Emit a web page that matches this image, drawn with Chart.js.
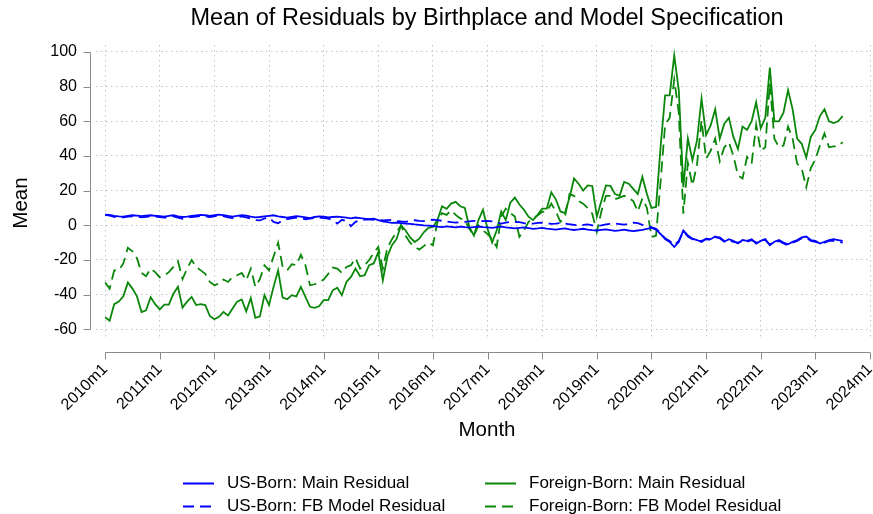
<!DOCTYPE html>
<html>
<head>
<meta charset="utf-8">
<script src="https://cdn.jsdelivr.net/npm/chart.js@4.4.1/dist/chart.umd.min.js"></script>
<style>
  html, body { margin: 0; padding: 0; background: #fff; }
  #wrap { width: 873px; height: 514px; }
</style>
</head>
<body>
<div id="wrap"><canvas id="chart" width="873" height="514"></canvas></div>
<script>
// monthly means, 2010m1 .. 2023m7
const usMain = [
  6.2, 6.0, 5.5, 5.2, 5.0, 5.4, 5.8, 5.6, 5.3, 5.6, 5.8, 5.5,
  5.3, 5.0, 5.4, 5.8, 5.2, 4.8, 5.0, 5.4, 5.7, 6.0, 5.8, 5.5,
  5.8, 6.2, 5.9, 5.4, 5.0, 5.5, 5.9, 5.6, 5.0, 4.6, 4.8, 5.2,
  5.5, 5.8, 5.2, 4.8, 4.4, 4.9, 5.3, 5.0, 4.6, 4.2, 4.8, 5.2,
  5.0, 4.6, 4.8, 5.0, 4.7, 4.4, 4.0, 4.5, 4.2, 3.8, 3.6, 3.9,
  3.0, 2.2, 1.8, 1.4, 1.5, 1.2, 1.0, 0.8, 0.5, 0.3, 0.0, -0.2,
  -0.4, -0.8, -1.0, -0.6, -0.9, -1.2, -0.8, -1.1, -1.3, -1.0, -0.7, -1.0,
  -1.2, -1.5, -1.1, -0.8, -1.2, -1.5, -1.8, -1.5, -1.2, -1.6, -2.0, -1.8,
  -1.5, -1.9, -2.2, -2.5, -2.1, -1.8, -2.3, -2.7, -2.4, -2.0, -2.5, -2.8,
  -3.0, -2.6, -2.3, -2.8, -3.2, -2.9, -2.5, -3.0, -3.4, -3.0, -2.6, -2.0,
  -1.5, -2.5, -5.0, -8.0, -9.6, -12.5, -9.6, -3.0, -5.8, -7.7, -8.5, -9.6,
  -7.7, -8.0, -6.5, -7.5, -9.5, -8.0, -9.0, -10.5, -8.5, -9.0, -8.0, -10.5,
  -9.0, -8.0, -11.5, -9.5, -8.5, -10.0, -11.0, -9.5, -8.5, -7.0, -6.5, -8.5,
  -9.0, -10.5, -9.5, -8.5, -8.0, -8.5, -9.0
];
const usFb = [
  6.0, 5.6, 4.8, 4.5, 4.6, 5.0, 5.2, 5.0, 4.6, 4.9, 5.2, 5.0,
  4.8, 4.4, 4.7, 5.2, 4.5, 3.8, 4.3, 4.8, 5.0, 5.4, 5.2, 4.8,
  5.2, 5.6, 5.3, 4.6, 4.2, 4.8, 5.2, 4.6, 3.8, 3.0, 2.8, 4.0,
  4.5, 2.0, 1.2, 3.0, 3.5, 4.0, 4.5, 4.2, 3.5, 3.8, 4.2, 4.5,
  4.2, 3.8, 3.0, 1.0, 3.2, 2.5, -0.5, 2.0, 3.0, 3.3, 3.5, 3.2,
  3.2, 2.8, 3.0, 3.2, 2.5, 2.2, 2.0, 2.5, 2.9, 2.6, 2.4, 3.0,
  3.3, 3.0, 2.6, 2.2, 1.8, 1.5, 1.8, 2.0, 2.3, 2.5, 2.6, 2.4,
  2.5, 2.3, 1.6, 1.0, 1.5, 1.9, 2.0, 1.8, 1.2, 0.8, 1.0, 1.4,
  1.5, 1.2, 0.8, 1.0, 1.3, 1.0, 0.6, 0.3, 0.0, 0.2, 0.5, 0.0,
  -0.3, 0.0, 0.5, 0.8, 1.0, 0.7, 0.4, 0.9, 1.5, 1.2, 0.3, -0.5,
  -1.0, -2.0, -4.5, -7.5, -9.0, -11.5, -9.0, -3.5, -6.5, -8.0, -9.0, -9.0,
  -8.0, -8.5, -7.0, -7.0, -9.0, -8.5, -9.5, -10.0, -9.0, -9.5, -8.5, -10.0,
  -8.5, -8.5, -11.0, -10.0, -9.0, -10.5, -11.5, -10.0, -9.0, -7.5, -7.0, -9.0,
  -9.5, -10.5, -10.0, -9.0, -9.0, -9.5, -10.0
];
const fbMain = [
  -53, -55, -45.5, -44, -41, -33, -36.5, -41, -50, -49, -41.5, -45.5,
  -48.5, -45.7, -45.7, -39.5, -35.5, -47.5, -44, -41.3, -46, -45.5, -46, -52.3,
  -54.2, -52.8, -50, -52, -48, -44, -42.8, -49.6, -42, -53.4, -52.5, -40.3,
  -46, -35.5, -26, -41.7, -42.6, -40.3, -41, -35.5, -41.3, -47, -47.6, -46.7,
  -43.2, -43.2, -37.5, -36, -40.3, -32.7, -29.8, -25, -29.4, -28.8, -23, -22,
  -15.4, -31.7, -18, -11.5, -8, 0, -3, -7, -9.6, -7.7, -4, -1.5,
  -1, 3, 11, 9.5, 12.5, 13.5, 11, 10, -1, -6, 3, 9,
  -2, -10, -3, 8, 3, 13, 16, 12, 9, 5, 3, 6,
  9.6, 9.6, 19, 15, 8, 7, 16, 27, 24, 20, 23, 22.7,
  5, 14, 23, 22.7, 18, 17, 25, 24, 21, 18, 28, 18,
  10, 10.6, 45, 75, 75, 98, 78, 22, 50, 37.5, 49, 73,
  52, 57.6, 67, 50, 58.6, 62, 51, 44, 57, 55, 60, 71,
  56, 62, 91, 60, 60, 65, 78, 67, 50, 47, 39, 51,
  55, 63, 67, 60, 59, 60, 63
];
const fbFb = [
  -33, -36.5, -26, -26, -22, -13, -15, -19, -27.5, -29.4, -25, -27,
  -30, -29, -27, -24, -20.7, -31, -25, -20, -24, -26, -28, -32.7,
  -34.6, -33.6, -31.3, -32.7, -29.8, -28.8, -27.5, -31.7, -25, -35.5, -31, -23,
  -26, -18, -10, -24, -26, -22.5, -23, -17, -23, -34.6, -34, -32.7,
  -31.3, -28, -24.4, -25, -27.5, -24, -23, -19, -25, -23, -20, -16,
  -12.5, -25, -13, -8, -4, 0, -6, -10, -12.5, -14, -12, -10,
  -11.5, 2, 7, 6, 8.6, 6, 4, 3, -2, -6, 0, -3,
  -5, -8, -12.5, 5, 9.6, 7, 5, -6.7, -3, 2, 4, 5.8,
  7.7, 8, 12.5, 8, 2, 5, 18, 17, 14, 12.5, 10, 6.7,
  -3.8, 8, 17, 17, 15, 16, 17, 16, 14, 8, 15.4, 10,
  -6.7, -6, 25, 58, 62, 84, 65, 6.7, 36, 23, 35, 60.5,
  38.4, 43, 50, 37, 45, 48, 40, 28.8, 27, 39.4, 35.6, 58,
  43, 45, 82, 50, 45, 46, 57, 50, 35.6, 32.7, 22, 33,
  38, 46, 53, 45, 45.5, 45.5, 48
];

const xTickMonths = [0, 12, 24, 36, 48, 60, 72, 84, 96, 108, 120, 132, 144, 156, 168];
const xTickLabels = ['2010m1', '2011m1', '2012m1', '2013m1', '2014m1', '2015m1', '2016m1', '2017m1',
  '2018m1', '2019m1', '2020m1', '2021m1', '2022m1', '2023m1', '2024m1'];
const yTicks = [-60, -40, -20, 0, 20, 40, 60, 80, 100];

const seriesNames = ['US-Born: Main Residual', 'US-Born: FB Model Residual',
  'Foreign-Born: Main Residual', 'Foreign-Born: FB Model Residual'];

const monthIdx = usMain.map((_, i) => i);

const BLUE = '#0000ff';
const GREEN = '#0a870a';
const DASH = [11, 6];
const FONT = '"Liberation Sans", Arial, Helvetica, sans-serif';

Chart.defaults.font.family = FONT;
Chart.defaults.color = '#000';

// titles, offset axes and the 2x2 legend, drawn the way the original lays them out
const frame = {
  id: 'frame',
  afterDraw(chart) {
    const { ctx, chartArea, scales: { x, y } } = chart;
    ctx.save();

    ctx.strokeStyle = '#8a8a8a';
    ctx.lineWidth = 1;
    ctx.setLineDash([]);
    ctx.beginPath();
    const ax = Math.round(chartArea.left - 6) + 0.5;
    ctx.moveTo(ax, Math.round(y.getPixelForValue(yTicks[yTicks.length - 1])) + 0.5);
    ctx.lineTo(ax, Math.round(y.getPixelForValue(yTicks[0])) + 0.5);
    yTicks.forEach(v => {
      const py = Math.round(y.getPixelForValue(v)) + 0.5;
      ctx.moveTo(ax - 7, py);
      ctx.lineTo(ax, py);
    });
    const ay = Math.round(chartArea.bottom + 14) + 0.5;
    ctx.moveTo(x.getPixelForValue(xTickMonths[0]), ay);
    ctx.lineTo(x.getPixelForValue(xTickMonths[xTickMonths.length - 1]), ay);
    xTickMonths.forEach(m => {
      const px = Math.round(x.getPixelForValue(m)) + 0.5;
      ctx.moveTo(px, ay);
      ctx.lineTo(px, ay + 7);
    });
    ctx.stroke();

    ctx.fillStyle = '#000';
    ctx.textAlign = 'center';
    ctx.textBaseline = 'middle';
    ctx.font = '23.5px ' + FONT;
    ctx.fillText('Mean of Residuals by Birthplace and Model Specification', 487, 19);
    ctx.font = '20.5px ' + FONT;
    ctx.fillText('Month', 487, 430);
    ctx.save();
    ctx.translate(21, 203);
    ctx.rotate(-Math.PI / 2);
    ctx.fillText('Mean', 0, 0);
    ctx.restore();

    // legend: columns US / Foreign, rows Main / FB model
    const order = [0, 2, 1, 3];
    const colX = [183, 485];
    const rowY = [483, 506];
    ctx.font = '17px ' + FONT;
    ctx.textAlign = 'left';
    order.forEach((di, k) => {
      const ds = chart.data.datasets[di];
      const lx = colX[k % 2];
      const ly = rowY[Math.floor(k / 2)];
      ctx.strokeStyle = ds.borderColor;
      ctx.lineWidth = 2;
      ctx.setLineDash(ds.borderDash || []);
      ctx.beginPath();
      ctx.moveTo(lx, ly + 0.5);
      ctx.lineTo(lx + 31, ly + 0.5);
      ctx.stroke();
      ctx.setLineDash([]);
      ctx.fillText(ds.label, lx + 44, ly);
    });
    ctx.restore();
  }
};

const line = (label, data, color, dash) => ({
  label, data,
  borderColor: color,
  borderWidth: 1.8,
  borderDash: dash,
  pointRadius: 0,
  tension: 0,
  fill: false
});

new Chart(document.getElementById('chart'), {
  type: 'line',
  data: {
    labels: monthIdx,
    datasets: [
      line(seriesNames[0], usMain, BLUE, []),
      line(seriesNames[1], usFb, BLUE, DASH),
      line(seriesNames[2], fbMain, GREEN, []),
      line(seriesNames[3], fbFb, GREEN, DASH)
    ]
  },
  options: {
    responsive: false,
    animation: false,
    devicePixelRatio: 1,
    layout: { padding: { top: 45, right: 3, left: 0, bottom: 0 } },
    plugins: {
      legend: { display: false },
      title: { display: false },
      tooltip: { enabled: false }
    },
    scales: {
      x: {
        type: 'linear',
        min: -2,
        max: 168,
        afterBuildTicks: s => { s.ticks = xTickMonths.map(v => ({ value: v })); },
        afterFit: s => { s.height = 176; s.paddingLeft = 0; s.paddingRight = 0; },
        grid: { color: '#c4c4c4', lineWidth: 1, drawTicks: false },
        border: { display: false, dash: [1.5, 3.5] },
        ticks: {
          autoSkip: false,
          maxRotation: 45,
          minRotation: 45,
          padding: 22,
          font: { size: 16 },
          callback: (v, i) => xTickLabels[i]
        }
      },
      y: {
        min: -65,
        max: 104,
        afterBuildTicks: s => { s.ticks = yTicks.map(v => ({ value: v })); },
        afterFit: s => { s.width = 96; s.paddingTop = 0; s.paddingBottom = 0; },
        grid: { color: '#c4c4c4', lineWidth: 1, drawTicks: false },
        border: { display: false, dash: [1.5, 3.5] },
        ticks: { padding: 19, font: { size: 16 } }
      }
    }
  },
  plugins: [frame]
});
</script>
</body>
</html>
